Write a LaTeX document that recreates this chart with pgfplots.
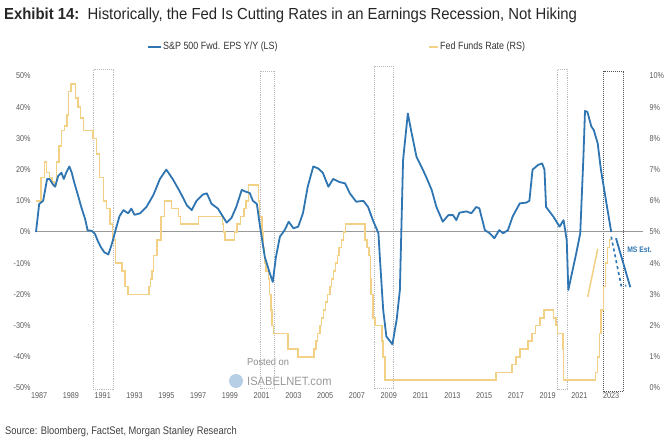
\documentclass[border=0pt]{standalone}
\usepackage{pgfplots}
\pgfplotsset{compat=1.18}
\usepackage{fontspec}
\setmainfont{Liberation Sans}[FakeStretch=0.93]
\newfontfamily\narrow{Liberation Sans}[FakeStretch=0.85]
\definecolor{epsblue}{RGB}{46,117,178}
\definecolor{ffyellow}{RGB}{242,209,135}
\definecolor{tickgray}{RGB}{90,90,90}
\definecolor{boxgray}{RGB}{185,185,190}
\definecolor{boxdark}{RGB}{80,80,90}
\begin{document}
\begin{tikzpicture}
\useasboundingbox (0pt,0pt) rectangle (670pt,444pt);
% title, legend, source
\node[anchor=base west,inner sep=0,text=black!85] at (4pt,424pt) {\fontsize{16}{18}\selectfont\bfseries Exhibit 14:\ \ \mdseries Historically, the Fed Is Cutting Rates in an Earnings Recession, Not Hiking};
\draw[epsblue,line width=2pt] (148pt,397pt) -- (161pt,397pt);
\node[anchor=west,inner sep=0,text=black!80] at (163pt,397pt) {\narrow\fontsize{10.5}{12}\selectfont S\&P 500 Fwd. EPS Y/Y (LS)};
\draw[ffyellow,line width=2pt] (429pt,397pt) -- (438pt,397pt);
\node[anchor=west,inner sep=0,text=black!80] at (440pt,397pt) {\narrow\fontsize{10.5}{12}\selectfont Fed Funds Rate (RS)};
\node[anchor=west,inner sep=0,text=black!75] at (5pt,12pt) {\narrow\fontsize{11}{12}\selectfont Source: Bloomberg, FactSet, Morgan Stanley Research};
% watermark
\node[anchor=west,inner sep=0,text=black!45] at (247pt,82pt) {\fontsize{10}{11}\selectfont Posted on};
\node[anchor=west,inner sep=0,text=black!40] at (247pt,63pt) {\fontsize{12}{13}\selectfont ISABELNET.com};
\fill[epsblue!35] (236pt,63pt) circle (7pt);
%
\begin{axis}[at={(36pt,56pt)},anchor=south west,width=607pt,height=312pt,scale only axis,
  xmin=1987,xmax=2025.2,ymin=-50,ymax=50,clip=false,
  axis line style={draw=none},major tick length=0pt,
  ytick={-50,-40,...,50},
  yticklabel={\pgfmathprintnumber{\tick}\%},
  /pgf/number format/assume math mode=true,
  yticklabel style={font=\narrow\fontsize{8.5}{9}\selectfont,text=tickgray,xshift=-2pt},
  xtick={1987.2,1989.2,1991.2,1993.2,1995.2,1997.2,1999.2,2001.2,2003.2,2005.2,2007.2,2009.2,2011.2,2013.2,2015.2,2017.2,2019.2,2021.2,2023.2},
  xticklabels={1987,1989,1991,1993,1995,1997,1999,2001,2003,2005,2007,2009,2011,2013,2015,2017,2019,2021,2023},
  xticklabel style={font=\narrow\fontsize{8.5}{9}\selectfont,text=tickgray,yshift=-1pt},
]
% boxes
\draw[boxgray,densely dotted,line width=0.9pt] (axis cs:1990.6,-50.6) rectangle (axis cs:1991.9,52.2);
\draw[boxgray,densely dotted,line width=0.9pt] (axis cs:2001.1,-50.3) rectangle (axis cs:2002.0,51.6);
\draw[boxgray,densely dotted,line width=0.9pt] (axis cs:2008.3,-50.3) rectangle (axis cs:2009.5,52.9);
\draw[boxgray,densely dotted,line width=0.9pt] (axis cs:2019.83,-50.6) rectangle (axis cs:2020.46,52.2);
\draw[boxdark,densely dotted,line width=1pt] (axis cs:2022.72,-51.2) rectangle (axis cs:2023.97,51.6);
% zero line
\draw[black!40,line width=1pt] (axis cs:1986.95,0) -- (axis cs:2025.2,0);
\end{axis}
\begin{axis}[at={(36pt,56pt)},anchor=south west,width=607pt,height=312pt,scale only axis,
  xmin=1987,xmax=2025.2,ymin=0,ymax=10,
  axis line style={draw=none},major tick length=0pt,
  axis y line*=right,axis x line=none,
  ytick={0,1,...,10},
  yticklabel={\pgfmathprintnumber{\tick}\%},
  /pgf/number format/assume math mode=true,
  yticklabel style={font=\narrow\fontsize{8.5}{9}\selectfont,text=tickgray,xshift=3pt},
]
\addplot[ffyellow,line width=1.5pt,const plot] coordinates {
(1987.0,6.0)(1987.2,6.0)(1987.3,6.75)(1987.5,6.75)(1987.55,7.25)(1987.65,6.9)(1987.85,6.75)(1988.0,6.6)(1988.15,6.5)(1988.3,7.25)(1988.45,7.75)(1988.6,8.25)(1988.8,8.4)(1988.95,8.75)(1989.05,9.5)(1989.2,9.75)(1989.4,9.75)(1989.5,9.3)(1989.65,9.0)(1989.8,8.65)(1990.0,8.25)(1990.4,8.25)(1990.6,8.0)(1990.8,7.5)(1991.0,6.75)(1991.25,6.0)(1991.45,5.75)(1991.65,5.25)(1991.8,4.75)(1992.0,4.0)(1992.4,3.75)(1992.6,3.25)(1992.8,3.0)
(1994.1,3.25)(1994.2,3.5)(1994.3,3.75)(1994.38,4.25)(1994.62,4.75)(1994.88,5.5)(1995.08,6.0)(1995.52,5.75)(1995.97,5.5)(1996.08,5.25)(1997.23,5.5)(1998.75,5.25)(1998.8,5.0)(1998.88,4.75)(1999.5,5.0)(1999.65,5.25)(1999.88,5.5)(2000.08,5.75)(2000.22,6.0)(2000.38,6.5)
(2001.0,6.0)(2001.08,5.5)(2001.22,5.0)(2001.3,4.5)(2001.38,4.0)(2001.49,3.75)(2001.64,3.5)(2001.71,3.0)(2001.8,2.5)(2001.85,2.0)(2001.95,1.75)(2002.85,1.25)(2003.49,1.0)
(2004.49,1.25)(2004.61,1.5)(2004.72,1.75)(2004.86,2.0)(2004.96,2.25)(2005.09,2.5)(2005.22,2.75)(2005.34,3.0)(2005.49,3.25)(2005.61,3.5)(2005.72,3.75)(2005.84,4.0)(2005.96,4.25)(2006.08,4.5)(2006.22,4.75)(2006.36,5.0)(2006.49,5.25)
(2007.72,4.75)(2007.83,4.5)(2007.95,4.25)(2008.06,3.5)(2008.08,3.0)(2008.21,2.25)(2008.33,2.0)(2008.77,1.5)(2008.83,1.0)(2008.96,0.25)
(2015.96,0.5)(2016.96,0.75)(2017.2,1.0)(2017.45,1.25)(2017.96,1.5)(2018.22,1.75)(2018.45,2.0)(2018.73,2.25)(2018.96,2.5)(2019.58,2.25)(2019.71,2.0)(2019.83,1.75)(2020.17,1.25)(2020.21,0.25)
(2022.21,0.5)(2022.34,1.0)(2022.46,1.75)(2022.57,2.5)(2022.72,3.25)(2022.84,4.0)(2022.96,4.5)(2023.08,4.75)(2023.2,4.75)
};
\addplot[ffyellow,line width=1.5pt] coordinates {(2021.72,2.92)(2022.35,4.46)};
\end{axis}
\begin{axis}[at={(36pt,56pt)},anchor=south west,width=607pt,height=312pt,scale only axis,
  xmin=1987,xmax=2025.2,ymin=-50,ymax=50,hide axis,clip=false]
\addplot[epsblue,line width=1.8pt,line join=round] coordinates {
(1987.0,0)(1987.2,9)(1987.45,10)(1987.7,17)(1987.85,17)(1988.1,15)(1988.2,14.5)(1988.4,18)(1988.6,19)(1988.75,17)(1988.9,19)(1989.1,21)(1989.25,19)(1989.4,16)(1989.6,12.5)(1989.85,8)(1990.1,4)(1990.25,0.5)(1990.5,0.4)(1990.7,-0.5)(1990.9,-3)(1991.1,-5)(1991.3,-6.5)(1991.55,-7.2)(1991.7,-5)(1991.85,-2.5)(1992.0,0.5)(1992.25,5)(1992.5,7)(1992.8,6)(1993.0,7.5)(1993.2,5.5)(1993.55,6)(1993.95,8)(1994.4,12)(1994.8,17)(1995.2,20)(1995.6,17)(1996.05,13)(1996.5,8.5)(1996.8,7)(1997.1,10)(1997.5,12)(1997.75,12.4)(1998.05,9)(1998.45,7.5)(1999.0,3)(1999.3,4.5)(1999.6,8)(1999.95,13.5)(2000.15,13)(2000.45,12.5)(2000.65,10)(2000.9,9)(2001.1,1.7)(2001.4,-8)(2001.7,-13)(2001.9,-16)(2002.1,-8)(2002.35,-1.5)(2002.65,0.6)(2002.9,3.3)(2003.2,1.2)(2003.5,1.7)(2003.8,6)(2004.1,14.5)(2004.45,21)(2004.75,20.4)(2005.05,19)(2005.4,14.5)(2005.7,17)(2006.1,16)(2006.45,15.6)(2006.75,12.4)(2007.15,9.7)(2007.6,10)(2007.9,8)(2008.2,3.8)(2008.55,-0.4)(2008.65,-9)(2008.85,-25)(2009.05,-33.5)(2009.43,-36)(2009.7,-28)(2009.9,-18.6)(2010.1,23)(2010.4,38)(2010.6,32.7)(2010.95,24)(2011.25,21)(2011.55,17.7)(2011.9,13.5)(2012.2,8)(2012.6,3.3)(2012.95,5.4)(2013.25,5.4)(2013.45,3.8)(2013.65,6.2)(2014.1,6.6)(2014.4,6)(2014.7,8)(2014.9,7.6)(2015.25,0.6)(2015.55,-0.4)(2015.85,-2)(2016.15,0.6)(2016.4,-0.4)(2016.7,0.6)(2017.0,5)(2017.45,9.2)(2017.85,9.4)(2018.05,10)(2018.25,20)(2018.6,21.5)(2018.85,22)(2019.0,20)(2019.1,8)(2019.55,5)(2019.95,1.7)(2020.2,3.8)(2020.4,-2.6)(2020.5,-18.6)(2021.0,-6.8)(2021.25,-0.4)(2021.45,24)(2021.55,38.8)(2021.7,38.5)(2021.95,33.8)(2022.1,32.7)(2022.35,28.4)(2022.55,20)(2022.9,9.2)(2023.2,0)
};
\addplot[epsblue,line width=1.6pt,dashed] coordinates {(2023.2,-1.5)(2023.83,-17.2)(2024.15,-17.2)};
\addplot[epsblue,line width=1.8pt] coordinates {(2023.5,-2)(2024.4,-17.7)};
\node[anchor=west,inner sep=0,text=epsblue] at (axis cs:2024.2,-5.8) {\narrow\bfseries\fontsize{8}{9}\selectfont MS Est.};
\end{axis}
\end{tikzpicture}
\end{document}
